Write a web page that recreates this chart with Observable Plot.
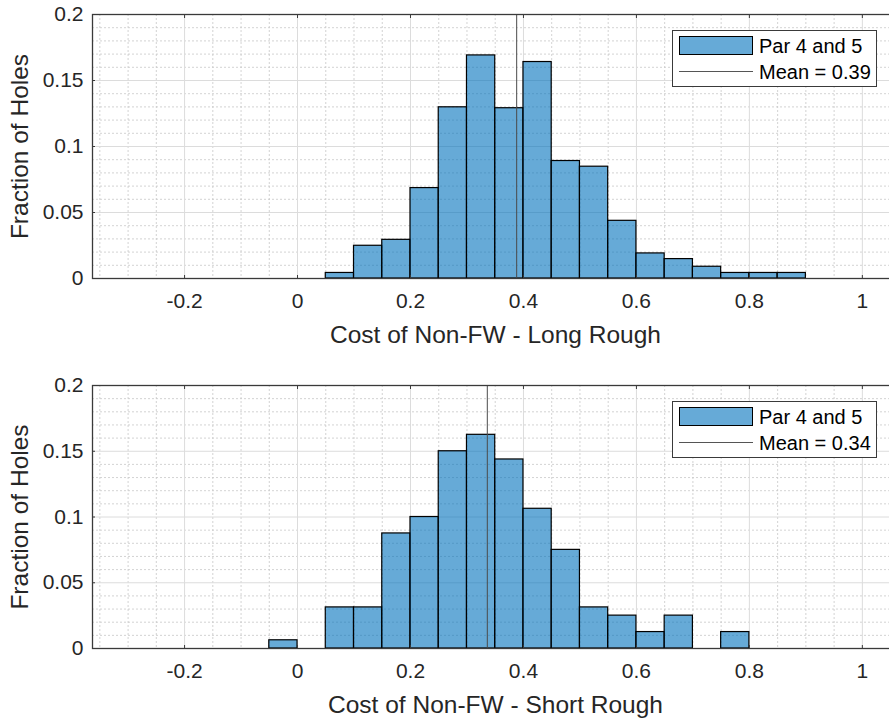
<!DOCTYPE html>
<html><head><meta charset="utf-8">
<script src="https://cdn.jsdelivr.net/npm/d3@7"></script>
<script src="https://cdn.jsdelivr.net/npm/@observablehq/plot@0.6"></script>
<style>
body{margin:0;background:#fff;font-family:"Liberation Sans",Arial,sans-serif;color:#262626;overflow:hidden}
.panel{position:relative;width:889px;overflow:hidden}
.panel svg{display:block;max-width:none !important}
.legend{position:absolute;width:205px;height:57px;border:1px solid #3a3a3a;background:#fff;box-sizing:border-box}
.legend .patch{position:absolute;left:6px;top:5px;width:74px;height:19px;background:rgb(102,170,215);border:1.3px solid #000;box-sizing:border-box}
.legend .line{position:absolute;left:6px;top:40px;width:74px;height:1px;background:#555}
.legend .t{position:absolute;left:86px;font-size:20px;line-height:20px;color:#000;white-space:nowrap;font-family:"Liberation Sans",Arial,sans-serif}
</style></head>
<body>
<div id="top" class="panel"></div>
<div id="bot" class="panel"></div>
<script>
// ---- data ----
const binWidth = 0.05;
const longStarts = [0.05,0.10,0.15,0.20,0.25,0.30,0.35,0.40,0.45,0.50,0.55,0.60,0.65,0.70,0.75,0.80,0.85];
const longFrac   = [0.0042,0.0248,0.0293,0.0685,0.1297,0.169,0.129,0.164,0.089,0.0847,0.0437,0.019,0.0147,0.0089,0.0042,0.0042,0.0042];
const longMean = 0.388;
const shortStarts = [-0.05,0.00,0.05,0.10,0.15,0.20,0.25,0.30,0.35,0.40,0.45,0.50,0.55,0.60,0.65,0.70,0.75];
const shortFrac   = [0.00625,0,0.03125,0.03125,0.0875,0.1,0.15,0.1625,0.14375,0.10625,0.075,0.03125,0.025,0.0125,0.025,0,0.0125];
const shortMean = 0.336;
const xTicks = [-0.2,0,0.2,0.4,0.6,0.8,1];
const yTicks = [0,0.05,0.1,0.15,0.2];
const xMinor = [-0.35,-0.3,-0.25,-0.15,-0.1,-0.05,0.05,0.1,0.15,0.25,0.3,0.35,0.45,0.5,0.55,0.65,0.7,0.75,0.85,0.9,0.95,1.05];
const yMinor = [0.01,0.02,0.03,0.04,0.06,0.07,0.08,0.09,0.11,0.12,0.13,0.14,0.16,0.17,0.18,0.19];
const xDomain = [-0.363, 1.064];
const yDomain = [0, 0.2];
const seriesName = "Par 4 and 5";

function panel(el, starts, fracs, mean, xlabel, height, mt, mb) {
  const bins = starts.map((s,i) => ({x1: s, x2: s + binWidth, y: fracs[i]}));
  const fmt = d => String(d);
  const chart = Plot.plot({
    width: 898, height, marginLeft: 92, marginRight: 0, marginTop: mt, marginBottom: mb,
    style: {fontFamily: '"Liberation Sans",Arial,sans-serif', color: "#262626", background: "#fff", overflow: "visible", maxWidth: "none"},
    x: {domain: xDomain},
    y: {domain: yDomain},
    marks: [
      Plot.ruleX(xMinor, {stroke: "#c8c8c8", strokeDasharray: "2,2", strokeWidth: 0.8}),
      Plot.ruleY(yMinor, {stroke: "#c8c8c8", strokeDasharray: "2,2", strokeWidth: 0.8}),
      Plot.ruleX(xTicks, {stroke: "#dcdcdc", strokeWidth: 1}),
      Plot.ruleY(yTicks, {stroke: "#dcdcdc", strokeWidth: 1}),
      Plot.rectY(bins, {x1: "x1", x2: "x2", y: "y", fill: "#0072BD", fillOpacity: 0.6, stroke: "#000", strokeWidth: 1.2}),
      Plot.ruleX([mean], {stroke: "#4a4a4a", strokeWidth: 1}),
      Plot.frame({stroke: "#3a3a3a", strokeWidth: 1.3}),
      Plot.axisX(xTicks, {tickSize: -3, text: null, stroke: "#3a3a3a", label: null}),
      Plot.axisX(xTicks, {anchor: "top", tickSize: -3, text: null, stroke: "#3a3a3a", label: null}),
      Plot.axisY(yTicks, {tickSize: -3, text: null, stroke: "#3a3a3a", label: null}),
      Plot.axisX(xTicks, {tickSize: 0, tickPadding: 15, tickFormat: fmt, fontSize: 21, fill: "#262626",
        label: xlabel, labelAnchor: "center", labelArrow: "none", labelOffset: 64}),
      Plot.axisY(yTicks, {tickSize: 0, tickPadding: 9, tickFormat: fmt, fontSize: 21, fill: "#262626",
        label: "Fraction of Holes", labelAnchor: "center", labelArrow: "none", labelOffset: 82})
    ]
  });
  chart.querySelectorAll('g[aria-label="x-axis label"], g[aria-label="y-axis label"]').forEach(g => g.setAttribute("font-size", 24.5));
  chart.querySelectorAll('g[aria-label="x-axis label"] text, g[aria-label="y-axis label"] text').forEach(t => t.setAttribute("font-size", 24.5));
  el.appendChild(chart);
  const lg = document.createElement("div");
  lg.className = "legend";
  lg.style.left = "672px";
  lg.style.top = (mt + 16) + "px";
  lg.innerHTML = `<div class="patch"></div><div class="line"></div>
    <div class="t" style="top:5px">${seriesName}</div>
    <div class="t" style="top:31px">Mean = ${mean.toFixed(2)}</div>`;
  el.appendChild(lg);
}

panel(document.getElementById("top"), longStarts, longFrac, longMean, "Cost of Non-FW - Long Rough", 360, 14, 82);
panel(document.getElementById("bot"), shortStarts, shortFrac, shortMean, "Cost of Non-FW - Short Rough", 361, 25, 73);
</script>
</body></html>
